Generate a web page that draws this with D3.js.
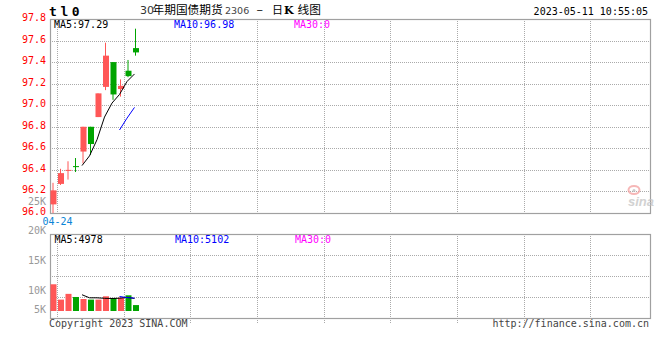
<!DOCTYPE html>
<html><head><meta charset="utf-8">
<script src="https://cdn.jsdelivr.net/npm/d3@7/dist/d3.min.js"></script>
<style>
html,body{margin:0;padding:0;background:#fff;}
text{font-family:"DejaVu Sans Mono","Liberation Mono",monospace;}
</style></head>
<body>
<svg id="c" width="660" height="360"></svg>
<script>
// ---- data ----
const dates = ["04-21","04-24","04-25","04-26","04-27","04-28","05-04","05-05","05-08","05-09","05-10","05-11"];
const openP  = [96.08, 96.27, 96.40, 96.435, 96.57, 96.80, 96.89, 97.17, 97.40, 97.15, 97.32, 97.53];
const highP  = [96.28, 96.41, 96.48, 96.51, 96.80, 96.80, 97.11, 97.58, 97.40, 97.24, 97.42, 97.71];
const lowP   = [96.00, 96.26, 96.31, 96.38, 96.46, 96.54, 96.89, 97.14, 97.05, 97.08, 97.26, 97.46];
const closeP = [96.21, 96.37, 96.40, 96.43, 96.80, 96.64, 97.11, 97.46, 97.10, 97.18, 97.27, 97.49];
const priceMA5  = [null,null,null,null,96.44,96.53,96.68,96.89,97.02,97.10,97.22,97.29];
const priceMA10 = [null,null,null,null,null,null,null,null,null,96.77,96.88,96.98];
const volume = [10600, 4520, 6800, 5560, 4760, 4520, 4520, 5830, 5160, 5320, 6230, 2350];
const volMA5  = [null,null,null,null,6450,5230,5230,5040,4960,5070,5410,4978];
const volMA10 = [null,null,null,null,null,null,null,null,null,5760,5320,5102];
const priceTicks = [96.0, 96.2, 96.4, 96.6, 96.8, 97.0, 97.2, 97.4, 97.6, 97.8];
const volTicks = [25000, 20000, 15000, 10000, 5000];
const volTickLabels = ["25K","20K","15K","10K","5K"];
const dateTickLabels = ["04-24"];
const ma30Label = "0";
const symbol = "tl0";
const timestamp = "2023-05-11 10:55:05";

// ---- layout ----
const svg = d3.select("#c");
const L = 50, R = 650, pTop = 19, pBot = 213, vTop = 234, vBot = 318;
const slotCount = 80;
const RED = "#ff5757", GREEN = "#00a400", GRID = "#aaa", FRAME = "#a0a0a0";

const x = d3.scaleBand().domain(d3.range(slotCount)).range([L, R]).paddingInner(0);
const bw = 6;
const xc = i => x(i) + 3.5;          // wick / body centre
const xl = i => x(i) + 2;            // MA line points
const y = d3.scaleLinear().domain([96.0, 97.8]).range([pBot, pTop]);
const yVol = d3.scaleLinear().domain([0, 10000]).range([311, 285.8]);
const yVolAxis = d3.scaleLinear().domain([10000, 25000]).range([290.5, 201]);
const gridX = d3.range(9).map(k => 57 + k * (R - L) / 9);

// gridlines
const g = svg.append("g");
g.selectAll(".hp").data(priceTicks.filter(v => v > 96.0 && v < 97.8)).join("line")
  .attr("x1", L).attr("x2", R).attr("y1", d => Math.round(y(d)) + 0.5).attr("y2", d => Math.round(y(d)) + 0.5)
  .attr("stroke", GRID).attr("stroke-dasharray", "1,1");
g.selectAll(".vp").data(gridX).join("line")
  .attr("x1", d => Math.round(d) + 0.5).attr("x2", d => Math.round(d) + 0.5).attr("y1", pTop).attr("y2", pBot)
  .attr("stroke", GRID).attr("stroke-dasharray", "1,1");
g.selectAll(".hv").data([255, 276, 297]).join("line")
  .attr("x1", L).attr("x2", R).attr("y1", d => d + 0.5).attr("y2", d => d + 0.5)
  .attr("stroke", GRID).attr("stroke-dasharray", "1,1");
g.selectAll(".vv").data(gridX).join("line")
  .attr("x1", d => Math.round(d) + 0.5).attr("x2", d => Math.round(d) + 0.5).attr("y1", vTop).attr("y2", vBot + 5)
  .attr("stroke", GRID).attr("stroke-dasharray", "1,1");

// frames
svg.append("rect").attr("x", L + 0.5).attr("y", pTop + 0.5).attr("width", R - L).attr("height", pBot - pTop)
  .attr("fill", "none").attr("stroke", FRAME).attr("stroke-width", 1.2);
svg.append("rect").attr("x", L + 0.5).attr("y", vTop + 0.5).attr("width", R - L).attr("height", vBot - vTop)
  .attr("fill", "none").attr("stroke", FRAME).attr("stroke-width", 1.2);

// sina watermark
const wm = svg.append("g").attr("opacity", 0.75);
wm.append("ellipse").attr("cx", 634).attr("cy", 190).attr("rx", 5.5).attr("ry", 4)
  .attr("fill", "none").attr("stroke", "#f4a0a0").attr("stroke-width", 2);
wm.append("circle").attr("cx", 634).attr("cy", 190.5).attr("r", 1.5).attr("fill", "#bbb");
wm.append("text").attr("x", 628).attr("y", 206).text("sina")
  .style("font-family", "'Liberation Sans',Arial,sans-serif").style("font-style", "italic")
  .style("font-weight", "bold").style("font-size", "13px").attr("fill", "#c4c4c4");

// candles
const idx = d3.range(dates.length);
const col = i => closeP[i] >= openP[i] ? RED : GREEN;
const cg = svg.append("g");
cg.selectAll(".wick").data(idx).join("line")
  .attr("x1", i => xc(i) - 0.5).attr("x2", i => xc(i) - 0.5)
  .attr("y1", i => y(highP[i])).attr("y2", i => y(lowP[i]))
  .attr("stroke", col).attr("stroke-width", 1);
cg.selectAll(".body").data(idx).join("rect")
  .attr("x", i => x(i) + 0.5).attr("width", bw)
  .attr("y", i => y(Math.max(openP[i], closeP[i])))
  .attr("height", i => Math.max(1, y(Math.min(openP[i], closeP[i])) - y(Math.max(openP[i], closeP[i]))))
  .attr("fill", col);

// MA lines
function maLine(arr, ys, color) {
  const line = d3.line().defined(d => d != null).x((d, i) => xl(i)).y(d => ys(d));
  svg.append("path").datum(arr).attr("d", line).attr("fill", "none").attr("stroke", color).attr("stroke-width", 1);
}
maLine(priceMA5, y, "#000");
maLine(priceMA10, y, "#0000ff");

// volume bars
svg.append("g").selectAll("rect").data(idx).join("rect")
  .attr("x", i => x(i) + 0.5).attr("width", bw)
  .attr("y", i => yVol(volume[i])).attr("height", i => yVol(0) - yVol(volume[i]))
  .attr("fill", col);
maLine(volMA5, yVol, "#000");
maLine(volMA10, yVol, "#0000ff");

// price axis labels
svg.append("g").selectAll("text").data(priceTicks).join("text")
  .attr("x", 46).attr("y", d => y(d) + 2).attr("text-anchor", "end")
  .style("font-size", "10px").attr("fill", "#ff0000").text(d => d.toFixed(1));
// volume axis labels
svg.append("g").selectAll("text").data(volTicks).join("text")
  .attr("x", 46).attr("y", d => Math.min(yVolAxis(d), 309) + 3.6).attr("text-anchor", "end")
  .style("font-size", "10px").attr("fill", "#999").text((d, i) => volTickLabels[i]);
// date label
svg.append("g").selectAll("text").data(dateTickLabels).join("text")
  .attr("x", d => x(dates.indexOf(d))).attr("y", 225.3).attr("text-anchor", "middle")
  .style("font-size", "10px").attr("fill", "#0a84d6").text(d => d);

// MA legends
function legend(yy, items) {
  items.forEach(([xx, txt, color]) => {
    svg.append("text").attr("x", xx).attr("y", yy).style("font-size", "10px").attr("fill", color).text(txt);
  });
}
const last = a => a[a.length - 1];
legend(27.6, [[54, "MA5:" + last(priceMA5).toFixed(2), "#000"],
              [174, "MA10:" + last(priceMA10).toFixed(2), "#0000ff"],
              [294, "MA30:" + ma30Label, "#ff00ff"]]);
legend(242.5, [[54.5, "MA5:" + last(volMA5), "#000"],
               [175, "MA10:" + last(volMA10), "#0000ff"],
               [295, "MA30:" + ma30Label, "#ff00ff"]]);

// header
svg.append("text").attr("x", 49).attr("y", 16).text(symbol)
  .style("font-size", "13px").style("font-weight", "bold").style("letter-spacing", "3.6px").attr("fill", "#000");
const cjk = "'Noto Sans CJK SC','Noto Sans',sans-serif";
const hdr = [
  [140, "30", "11px", "#333", "normal", "'DejaVu Sans',sans-serif"],
  [152.5, "年期国债期货", "11.7px", "#000", "normal", cjk],
  [225, "2306", "9.5px", "#444", "normal", "'DejaVu Sans',sans-serif"],
  [256.5, "–", "12px", "#000", "normal", cjk],
  [272, "日", "11px", "#000", "normal", cjk],
  [284, "K", "11px", "#000", "bold", "'DejaVu Serif',serif"],
  [297.5, "线图", "11.7px", "#000", "normal", cjk]
];
hdr.forEach(([xx, t, fs, c, fw, ff]) => {
  svg.append("text").attr("x", xx).attr("y", 14).text(t)
    .style("font-size", fs).style("font-weight", fw).style("font-family", ff).attr("fill", c);
});
svg.append("text").attr("x", 648).attr("y", 15.3).attr("text-anchor", "end")
  .style("font-size", "10px").attr("fill", "#000").text(timestamp);

// footer
svg.append("text").attr("x", 49).attr("y", 327).style("font-size", "10px").attr("fill", "#444")
  .text("Copyright 2023 SINA.COM");
svg.append("text").attr("x", 649).attr("y", 327).attr("text-anchor", "end").style("font-size", "10px").attr("fill", "#444")
  .text("http://finance.sina.com.cn");
</script>
</body></html>
